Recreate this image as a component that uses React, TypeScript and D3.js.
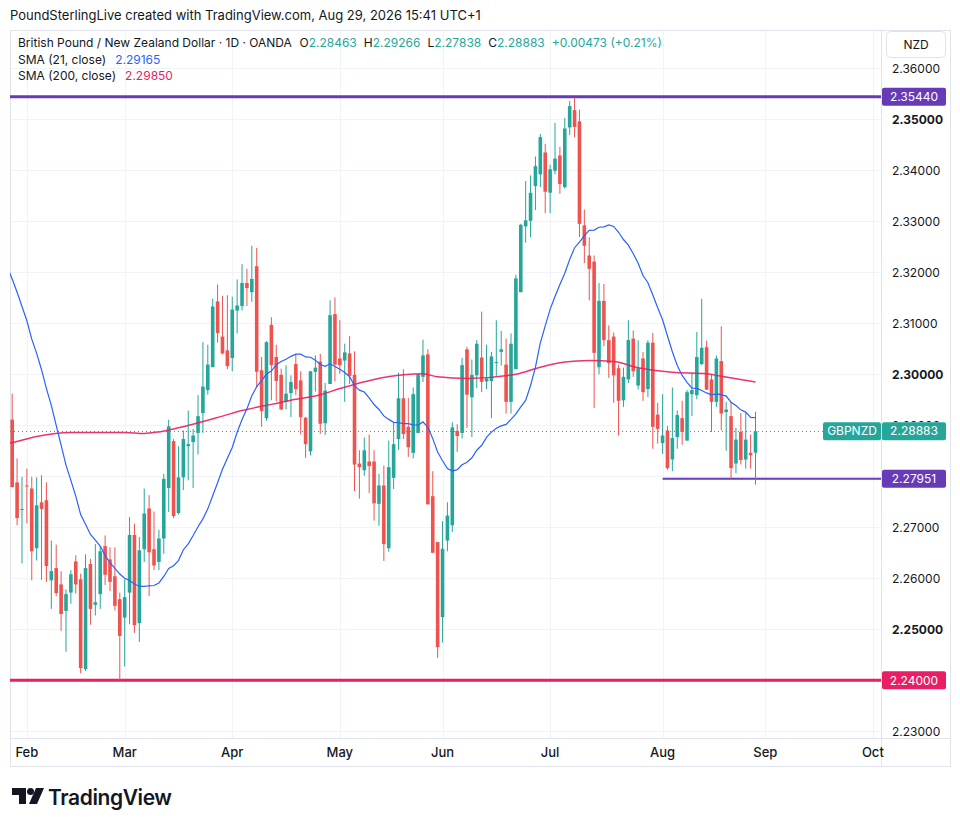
import React from "react";
import * as d3 from "d3";

// ---------- DATA ----------
const firstBarDate = "2026-01-28"; // daily bars, weekdays only
const open = [
  2.2911, 2.2788, 2.2735, 2.2782, 2.2776, 2.2659, 2.2749, 2.2753, 2.2596, 2.2620,
  2.2588, 2.2536, 2.2572, 2.2633, 2.2598, 2.2422, 2.2628, 2.2548, 2.2569, 2.2663,
  2.2637, 2.2604, 2.2559, 2.2523, 2.2572, 2.2685, 2.2512, 2.2657, 2.2737, 2.2657,
  2.2632, 2.2678, 2.2777, 2.2869, 2.2728, 2.2798, 2.2859, 2.2867, 2.2885, 2.2924,
  2.2969, 2.3014, 2.3143, 2.3074, 2.3047, 2.3032, 2.3125, 2.3134, 2.3179, 2.3161,
  2.3212, 2.3008, 2.2914, 2.3097, 2.3034, 2.2999, 2.2946, 2.2963, 2.3020, 2.2988,
  2.2915, 2.2849, 2.3005, 2.3025, 2.2904, 2.2981, 2.3118, 2.3031, 2.3027, 2.3041,
  2.2999, 2.2825, 2.2812, 2.2829, 2.2829, 2.2746, 2.2782, 2.2659, 2.2797, 2.2873,
  2.2953, 2.2897, 2.2846, 2.2885, 2.2995, 2.3039, 2.2761, 2.2671, 2.2524, 2.2674,
  2.2704, 2.2889, 2.2885, 2.3049, 2.2955, 2.2998, 2.3033, 2.2986, 2.2987, 2.3022,
  2.3044, 2.3019, 2.2946, 2.3010, 2.3161, 2.3290, 2.3301, 2.3369, 2.3392, 2.3435,
  2.3356, 2.3399, 2.3429, 2.3367, 2.3484, 2.3518, 2.3496, 2.3292, 2.3233, 2.3221,
  2.3014, 2.3144, 2.3067, 2.3074, 2.3012, 2.2949, 2.2990, 2.3070, 2.2978, 2.3031,
  2.2971, 2.3062, 2.2921, 2.2865, 2.2890, 2.2833, 2.2877, 2.2914, 2.2870, 2.2961,
  2.2959, 2.3020, 2.3053, 2.2990, 2.2946, 2.3026, 2.2926, 2.2918, 2.2825, 2.2887,
  2.2833, 2.2846, 2.28463,
];
const high = [
  2.2962, 2.2835, 2.2799, 2.2815, 2.2799, 2.2798, 2.2802, 2.2788, 2.2674, 2.2666,
  2.2614, 2.2578, 2.2616, 2.2645, 2.2609, 2.2647, 2.2638, 2.2667, 2.2663, 2.2684,
  2.2661, 2.2661, 2.2572, 2.2598, 2.2720, 2.2707, 2.2681, 2.2776, 2.2763, 2.2731,
  2.2695, 2.2805, 2.2911, 2.2873, 2.2859, 2.2890, 2.2929, 2.2893, 2.2959, 2.3063,
  2.3058, 2.3148, 2.3176, 2.3154, 2.3155, 2.3152, 2.3186, 2.3216, 2.3207, 2.3252,
  2.3248, 2.3034, 2.3065, 2.3112, 2.3058, 2.3011, 2.3018, 2.2998, 2.3040, 2.3006,
  2.2916, 2.3006, 2.3037, 2.3040, 2.2983, 2.3145, 2.3151, 2.3106, 2.3060, 2.3075,
  2.3045, 2.2851, 2.2876, 2.2882, 2.2851, 2.2805, 2.2821, 2.2870, 2.2905, 2.3003,
  2.3010, 2.2954, 2.2974, 2.3001, 2.3068, 2.3049, 2.2810, 2.2671, 2.2712, 2.2749,
  2.2906, 2.2902, 2.3032, 2.3054, 2.3029, 2.3067, 2.3123, 2.3058, 2.3044, 2.3106,
  2.3085, 2.3070, 2.3080, 2.3195, 2.3295, 2.3379, 2.3390, 2.3427, 2.3471, 2.3452,
  2.3411, 2.3493, 2.3446, 2.3503, 2.3536, 2.3543, 2.3519, 2.3323, 2.3269, 2.3233,
  2.3179, 2.3177, 2.3096, 2.3082, 2.3019, 2.3013, 2.3106, 2.3086, 2.3067, 2.3044,
  2.3067, 2.3081, 2.2944, 2.2961, 2.2899, 2.2974, 2.2929, 2.2948, 2.2969, 2.3003,
  2.3083, 2.3148, 2.3066, 2.3000, 2.3037, 2.3094, 2.2946, 2.2946, 2.2895, 2.2924,
  2.2924, 2.2882, 2.29266,
];
const low = [
  2.2778, 2.2704, 2.2629, 2.2708, 2.2596, 2.2635, 2.2597, 2.2593, 2.2540, 2.2565,
  2.2497, 2.2456, 2.2550, 2.2570, 2.2414, 2.2418, 2.2509, 2.2527, 2.2540, 2.2587,
  2.2575, 2.2537, 2.2400, 2.2427, 2.2510, 2.2493, 2.2475, 2.2632, 2.2565, 2.2616,
  2.2616, 2.2648, 2.2730, 2.2718, 2.2725, 2.2773, 2.2792, 2.2777, 2.2843, 2.2885,
  2.2960, 2.3014, 2.3062, 2.3039, 2.3010, 2.3006, 2.3080, 2.3125, 2.3134, 2.3142,
  2.2975, 2.2897, 2.2909, 2.2949, 2.2947, 2.2930, 2.2931, 2.2916, 2.2959, 2.2882,
  2.2836, 2.2841, 2.2966, 2.2883, 2.2881, 2.2981, 2.2986, 2.3001, 2.2946, 2.2981,
  2.2771, 2.2756, 2.2801, 2.2767, 2.2713, 2.2703, 2.2634, 2.2652, 2.2775, 2.2852,
  2.2873, 2.2838, 2.2835, 2.2885, 2.2985, 2.2745, 2.2650, 2.2444, 2.2474, 2.2653,
  2.2691, 2.2848, 2.2874, 2.2895, 2.2877, 2.2973, 2.2965, 2.2971, 2.2914, 2.2997,
  2.3017, 2.2923, 2.2923, 2.3010, 2.3161, 2.3258, 2.3269, 2.3322, 2.3367, 2.3316,
  2.3316, 2.3392, 2.3354, 2.3364, 2.3469, 2.3465, 2.3269, 2.3218, 2.3145, 2.2934,
  2.3000, 2.3055, 2.2993, 2.2944, 2.2880, 2.2936, 2.2983, 2.2995, 2.2970, 2.2948,
  2.2955, 2.2854, 2.2864, 2.2844, 2.2813, 2.2810, 2.2854, 2.2862, 2.2870, 2.2918,
  2.2951, 2.3018, 2.2969, 2.2887, 2.2936, 2.2890, 2.2850, 2.2795, 2.2806, 2.2823,
  2.2815, 2.2815, 2.27838,
];
const close = [
  2.2779, 2.2718, 2.2736, 2.2781, 2.2653, 2.2743, 2.2736, 2.2624, 2.2614, 2.2571,
  2.2530, 2.2569, 2.2608, 2.2588, 2.2424, 2.2620, 2.2540, 2.2553, 2.2653, 2.2607,
  2.2593, 2.2546, 2.2487, 2.2563, 2.2685, 2.2508, 2.2655, 2.2727, 2.2651, 2.2625,
  2.2678, 2.2795, 2.2898, 2.2722, 2.2798, 2.2873, 2.2863, 2.2880, 2.2918, 2.2976,
  2.3019, 2.3133, 2.3081, 2.3041, 2.3016, 2.3127, 2.3135, 2.3179, 2.3169, 2.3187,
  2.3005, 2.2928, 2.3063, 2.3018, 2.2987, 2.2931, 2.2962, 2.2985, 2.2971, 2.2916,
  2.2863, 2.3006, 2.3013, 2.2903, 2.2968, 2.3116, 2.3019, 2.3018, 2.3043, 2.2997,
  2.2823, 2.2818, 2.2851, 2.2820, 2.2747, 2.2782, 2.2667, 2.2818, 2.2863, 2.2953,
  2.2883, 2.2857, 2.2961, 2.3000, 2.3037, 2.2745, 2.2650, 2.2465, 2.2658, 2.2723,
  2.2896, 2.2879, 2.3018, 2.2960, 2.2999, 2.3060, 2.2985, 2.2992, 2.3035, 2.3024,
  2.3049, 2.2946, 2.3060, 2.3188, 2.3293, 2.3302, 2.3356, 2.3408, 2.3465, 2.3358,
  2.3402, 2.3423, 2.3373, 2.3482, 2.3526, 2.3485, 2.3295, 2.3252, 2.3207, 2.3042,
  2.3144, 2.3067, 2.3022, 2.2998, 2.2948, 2.2995, 2.3067, 2.3006, 2.3012, 2.2965,
  2.3062, 2.2897, 2.2893, 2.2880, 2.2816, 2.2875, 2.2920, 2.2887, 2.2965, 2.2969,
  2.3034, 2.3052, 2.2970, 2.2946, 2.3031, 2.2923, 2.2931, 2.2816, 2.2872, 2.2832,
  2.2872, 2.2841, 2.28883,
];

// SMA(21) values for bars -1..19 (need history before the window)
const sma21Lead = [
  2.3210, 2.3187, 2.3161, 2.3133, 2.3105, 2.3069, 2.3041, 2.3009, 2.2972, 2.2939,
  2.2900, 2.2861, 2.2822, 2.2792, 2.2761, 2.2725, 2.2706, 2.2686, 2.2675, 2.2663,
  2.2645,
];
// SMA(200) at bar indices
const sma200Bar = [-1, 0, 5, 12, 23, 27, 30, 34, 43, 47, 53, 58, 63, 67, 74, 80, 84, 87, 93, 103, 108, 113, 118, 123, 128, 135, 142, 145, 152];
const sma200Val = [
  2.2864, 2.2866, 2.2878, 2.2886, 2.2886, 2.2884, 2.2887, 2.2895, 2.2918, 2.2929,
  2.2941, 2.2951, 2.2960, 2.2972, 2.2990, 2.2999, 2.3001, 2.2995, 2.2992, 2.3000,
  2.3014, 2.3024, 2.3027, 2.3025, 2.3013, 2.3004, 2.3001, 2.2996, 2.2985,
];
const legendSma = ["2.29165", "2.29850"];

// Horizontal drawn levels
const levelPrice = [2.3544, 2.27951, 2.24];
const levelFromBar = [-3, 133, -3];
const levelColor = ["#673ab7", "#673ab7", "#e91e63"];
const levelWidth = [3, 2, 3];

const yTicks = [2.23, 2.24, 2.25, 2.26, 2.27, 2.28, 2.29, 2.30, 2.31, 2.32, 2.33, 2.34, 2.35, 2.36];

// ---------- LAYOUT ----------
const W = 960;
const H = 826;
const plotL = 10;
const plotR = 881;
const plotT = 30;
const plotB = 738;
const frameR = 950;
const frameB = 766;

const UP = "#26a69a";
const DOWN = "#ef5350";
const FONT = "Inter, Roboto, 'Noto Sans', sans-serif";
const TXT = "#131722";
const GRID = "#f0f3fa";
const BORDER = "#e0e3eb";

function weekdays(start: string, n: number): Date[] {
  const out: Date[] = [];
  const d = new Date(start + "T00:00:00Z");
  while (out.length < n) {
    const wd = d.getUTCDay();
    if (wd !== 0 && wd !== 6) out.push(new Date(d.getTime()));
    d.setUTCDate(d.getUTCDate() + 1);
  }
  return out;
}

export default function App() {
  const n = close.length;
  const x = d3.scaleLinear().domain([0, n - 1]).range([12.2, 755.5]);
  const y = d3.scaleLinear().domain([2.23, 2.36]).range([731.3, 68.3]);

  const dates = weekdays(firstBarDate, 185);
  const fmtMonth = d3.utcFormat("%b");
  const monthTicks: { i: number; label: string }[] = [];
  for (let i = 1; i < dates.length; i++) {
    if (dates[i].getUTCMonth() !== dates[i - 1].getUTCMonth()) {
      if (x(i) < plotR - 2) monthTicks.push({ i, label: fmtMonth(dates[i]) });
    }
  }

  const sma21: [number, number][] = [[-1, sma21Lead[0]]];
  for (let i = 0; i < n; i++) {
    const v = i < 20 ? sma21Lead[i + 1] : (d3.mean(close.slice(i - 20, i + 1)) as number);
    sma21.push([i, v]);
  }
  const sma200: [number, number][] = sma200Bar.map((b, k) => [b, sma200Val[k]]);

  const line = d3
    .line<[number, number]>()
    .x((d) => x(d[0]))
    .y((d) => y(d[1]));
  const smooth = d3
    .line<[number, number]>()
    .x((d) => x(d[0]))
    .y((d) => y(d[1]))
    .curve(d3.curveMonotoneX);

  const f5 = d3.format(".5f");
  const last = n - 1;
  const chg = close[last] - close[last - 1];
  const pct = (chg / close[last - 1]) * 100;
  const lastY = y(close[last]);
  const bodyW = 3.6;

  const tagPrices = [...levelPrice, close[last]];
  const tagYs = tagPrices.map((p) => y(p));

  const tag = (price: number, color: string, key: string) => {
    const ty = y(price);
    return (
      <g key={key}>
        <rect x={882} y={ty - 9} width={64} height={18} rx={2} fill={color} />
        <text x={914} y={ty + 4.2} textAnchor="middle" fontSize={12} fill="#fff" fontFamily={FONT}>
          {f5(price)}
        </text>
      </g>
    );
  };

  // tick labels: skip ones fully covered by a tag, clip partially covered ones
  const tickLabels = yTicks.map((t) => {
    const ty = y(t);
    let nearest = Infinity;
    let nearY = 0;
    tagYs.forEach((gy) => {
      if (Math.abs(gy - ty) < Math.abs(nearest)) {
        nearest = gy - ty;
        nearY = gy;
      }
    });
    return { t, ty, hidden: Math.abs(nearest) < 4, clip: Math.abs(nearest) < 15 ? nearY : null };
  });

  return (
    <svg
      width={W}
      height={H}
      viewBox={`0 0 ${W} ${H}`}
      style={{ position: "absolute", left: 0, top: 0, background: "#fff" }}
      fontFamily={FONT}
    >
      <defs>
        <clipPath id="plot">
          <rect x={plotL} y={plotT} width={plotR - plotL} height={plotB - plotT} />
        </clipPath>
        {tickLabels
          .filter((l) => !l.hidden && l.clip !== null)
          .map((l) => {
            const gy = l.clip as number;
            const above = l.ty < gy;
            return (
              <clipPath id={"tc" + Math.round(l.t * 100)} key={"tc" + l.t}>
                {above ? (
                  <rect x={882} y={plotT} width={68} height={gy - 9 - plotT} />
                ) : (
                  <rect x={882} y={gy + 9} width={68} height={frameB - gy - 9} />
                )}
              </clipPath>
            );
          })}
      </defs>
      <rect x={0} y={0} width={W} height={H} fill="#fff" />

      {/* header */}
      <text x={10} y={20} fontSize={13} fill={TXT}>
        PoundSterlingLive created with TradingView.com, Aug 29, 2026 15:41 UTC+1
      </text>

      {/* grid */}
      <g>
        {yTicks.map((t) => (
          <line key={"gy" + t} x1={plotL} x2={plotR} y1={Math.round(y(t)) + 0.5} y2={Math.round(y(t)) + 0.5} stroke={GRID} />
        ))}
        {monthTicks.map((m) => (
          <line key={"gx" + m.i} x1={Math.round(x(m.i)) + 0.5} x2={Math.round(x(m.i)) + 0.5} y1={plotT} y2={plotB} stroke={GRID} />
        ))}
      </g>

      {/* frame */}
      <rect x={plotL + 0.5} y={plotT + 0.5} width={frameR - plotL} height={frameB - plotT} fill="none" stroke={BORDER} />
      <line x1={plotL} x2={frameR} y1={plotB + 0.5} y2={plotB + 0.5} stroke={BORDER} />
      <line x1={plotR + 0.5} x2={plotR + 0.5} y1={plotT} y2={frameB} stroke={BORDER} />

      <g clipPath="url(#plot)">
        {/* drawn levels */}
        {levelPrice.map((p, k) => (
          <line
            key={"lv" + k}
            x1={levelFromBar[k] < 0 ? plotL : x(levelFromBar[k])}
            x2={plotR}
            y1={y(p)}
            y2={y(p)}
            stroke={levelColor[k]}
            strokeWidth={levelWidth[k]}
          />
        ))}
        {/* last price dotted line */}
        <line x1={plotL} x2={plotR} y1={Math.round(lastY) + 0.5} y2={Math.round(lastY) + 0.5} stroke={UP} strokeDasharray="1 3" />

        {/* candles */}
        {close.map((c, i) => {
          const o = open[i];
          const col = c >= o ? UP : DOWN;
          const cx = x(i);
          const top = y(Math.max(o, c));
          const bot = y(Math.min(o, c));
          return (
            <g key={"c" + i}>
              <line x1={cx} x2={cx} y1={y(high[i])} y2={y(low[i])} stroke={col} strokeWidth={1} />
              <rect x={cx - bodyW / 2} y={top} width={bodyW} height={Math.max(1, bot - top)} fill={col} />
            </g>
          );
        })}

        {/* moving averages */}
        <path d={smooth(sma200) || ""} fill="none" stroke="#e91e63" strokeWidth={1.5} strokeOpacity={0.9} />
        <path d={line(sma21) || ""} fill="none" stroke="#2962ff" strokeWidth={1.2} />
      </g>

      {/* legend */}
      <text x={18} y={47} fontSize={12} fill={TXT}>
        British Pound / New Zealand Dollar · 1D · OANDA
        <tspan dx={8}>O</tspan>
        <tspan fill={UP}>{f5(open[last])}</tspan>
        <tspan dx={7}>H</tspan>
        <tspan fill={UP}>{f5(high[last])}</tspan>
        <tspan dx={7}>L</tspan>
        <tspan fill={UP}>{f5(low[last])}</tspan>
        <tspan dx={7}>C</tspan>
        <tspan fill={UP}>{f5(close[last])}</tspan>
        <tspan dx={7} fill={UP}>
          {(chg >= 0 ? "+" : "") + f5(chg) + " (" + (pct >= 0 ? "+" : "") + pct.toFixed(2) + "%)"}
        </tspan>
      </text>
      <text x={18} y={63.5} fontSize={12} fill={TXT}>
        SMA (21, close)
        <tspan dx={9} fill="#2962ff">{legendSma[0]}</tspan>
      </text>
      <text x={18} y={79.5} fontSize={12} fill={TXT}>
        SMA (200, close)
        <tspan dx={9} fill="#e91e63">{legendSma[1]}</tspan>
      </text>

      {/* price axis */}
      <rect x={886.5} y={31.5} width={59} height={26} rx={4} fill="#fff" stroke={BORDER} />
      <text x={916} y={48.5} textAnchor="middle" fontSize={12} fill={TXT}>NZD</text>
      {tickLabels
        .filter((l) => !l.hidden)
        .map((l) => {
          const bold = Math.abs(Math.round(l.t * 100) % 5) === 0;
          return (
            <text
              key={"yl" + l.t}
              x={892}
              y={l.ty + 4.2}
              fontSize={12}
              fill={TXT}
              fontWeight={bold ? 700 : 400}
              clipPath={l.clip !== null ? `url(#tc${Math.round(l.t * 100)})` : undefined}
            >
              {f5(l.t)}
            </text>
          );
        })}
      {levelPrice.map((p, k) => tag(p, levelColor[k], "tg" + k))}
      {/* last price tags */}
      <rect x={823} y={lastY - 9} width={58} height={18} rx={2} fill={UP} />
      <text x={852} y={lastY + 4.2} textAnchor="middle" fontSize={12} fill="#fff">GBPNZD</text>
      {tag(close[last], UP, "tglast")}

      {/* time axis */}
      {monthTicks.map((m) => (
        <text key={"xl" + m.i} x={x(m.i)} y={757} textAnchor="middle" fontSize={13} fontWeight={500} fill={TXT}>
          {m.label}
        </text>
      ))}

      {/* logo */}
      <g fill={TXT}>
        <path d="M12 788 H26 V804 H19 V795 H12 Z" />
        <circle cx={30.5} cy={791.5} r={3.5} />
        <path d="M36 788 H44 L37 804 H29 Z" />
        <text x={48} y={805} fontSize={21} fontWeight={600} letterSpacing={-0.4}>TradingView</text>
      </g>
    </svg>
  );
}
